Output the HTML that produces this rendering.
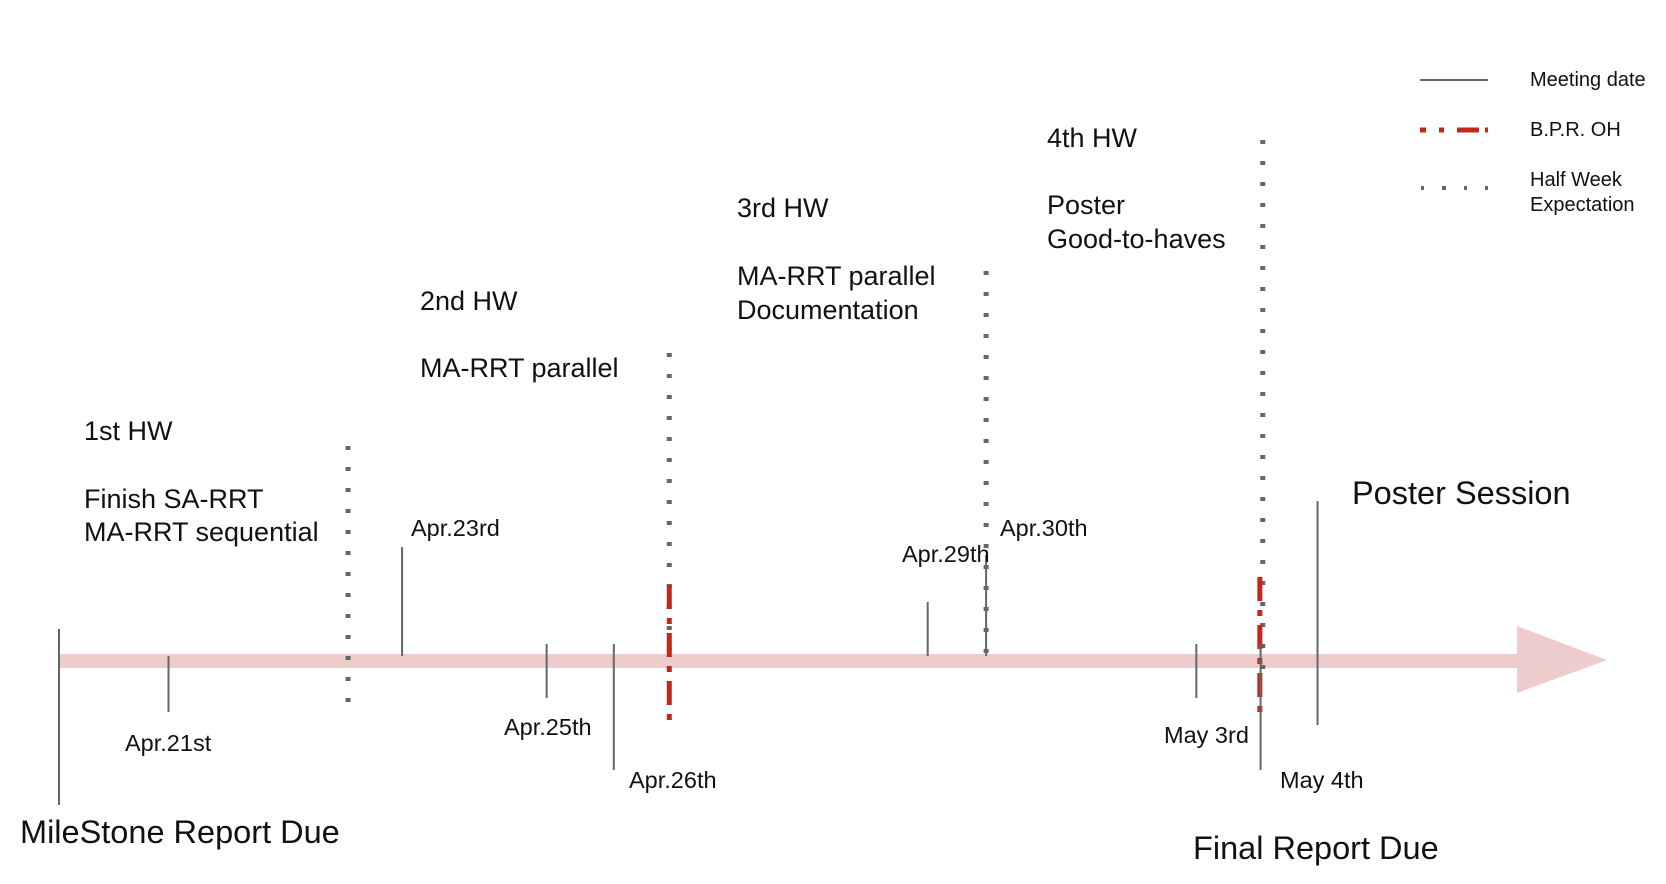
<!DOCTYPE html>
<html><head><meta charset="utf-8"><style>
html,body{margin:0;padding:0;background:#fff;width:1666px;height:884px;overflow:hidden}
svg text{font-family:"Liberation Sans",Arial,sans-serif;fill:#111}
</style></head><body>
<svg id="chart" width="1666" height="884" viewBox="0 0 1666 884" xmlns="http://www.w3.org/2000/svg">
<g id="axis">
<rect x="59" y="654" width="1460" height="14" fill="#edcccb"/>
<polygon points="1517,626 1607,660 1517,693" fill="#edcccb"/>
</g>
<g id="marks"></g>
<g id="labels"></g>
<g id="legend">
<line x1="1420" y1="80" x2="1488" y2="80" stroke="#666" stroke-width="2"/>
<text x="1530" y="86" font-size="20">Meeting date</text>
<line x1="1420" y1="130" x2="1488" y2="130" stroke="#c0281c" stroke-width="5" stroke-dasharray="6 13 5 13 22"/>
<text x="1530" y="136" font-size="20">B.P.R. OH</text>
<line x1="1421" y1="188" x2="1488" y2="188" stroke="#666" stroke-width="4" stroke-dasharray="3 18 4 18"/>
<text x="1530" y="186" font-size="20">Half Week</text>
<text x="1530" y="211" font-size="20">Expectation</text>
</g>
</svg>
<script>
// Timeline positions are in timeline units (0 = milestone, 100 = arrow shaft end)
const meetingNames = ["Apr.20","Apr.21st","Apr.23rd","Apr.25th","Apr.26th","Apr.29th","Apr.30th","May 3rd","May 4th","Poster"];
const meetingPos   = [0, 7.5, 23.5, 33.4, 38.0, 59.5, 63.5, 77.9, 82.3, 86.2];
const meetingTop   = [629, 656, 547, 644, 644, 602, 555, 644, 644, 501];
const meetingBot   = [805, 712, 656, 698, 770, 656, 656, 698, 770, 725];
const halfWeekPos  = [19.8, 41.8, 63.5, 82.45];
const halfWeekTop  = [446, 353, 271, 140];
const halfWeekBot  = [706, 660, 654, 673];
const bprPos       = [41.8, 82.25];
const bprTop       = [585, 577];
const bprBot       = [722, 713];
const x0 = 59, x1 = 1519;
function xScale(v){ return x0 + (x1 - x0) * v / 100; }

const NS = "http://www.w3.org/2000/svg";
const marks = document.getElementById('marks');
function ln(xv, y1, y2, stroke, w, dash){
  const l = document.createElementNS(NS,'line');
  l.setAttribute('x1', xScale(xv)); l.setAttribute('x2', xScale(xv));
  l.setAttribute('y1', y1); l.setAttribute('y2', y2);
  l.setAttribute('stroke', stroke); l.setAttribute('stroke-width', w);
  if (dash) l.setAttribute('stroke-dasharray', dash);
  marks.appendChild(l);
  return l;
}
halfWeekPos.forEach((p,i)=>{
  const l = ln(p, halfWeekTop[i], halfWeekBot[i], '#666', 5, '4 17');
  
  
});
bprPos.forEach((p,i)=>{
  const l = ln(p, bprTop[i], bprBot[i], '#c0281c', 5, '24 9 6 9');
  
  
});
meetingPos.forEach((p,i)=>{
  const l = ln(p, meetingTop[i], meetingBot[i], '#666', 2);
  
  
});

const labelText = ["Apr.21st","Apr.23rd","Apr.25th","Apr.26th","Apr.29th","Apr.30th","May 3rd","May 4th",
 "MileStone Report Due","Final Report Due","Poster Session",
 "1st HW","Finish SA-RRT","MA-RRT sequential","2nd HW","MA-RRT parallel",
 "3rd HW","MA-RRT parallel","Documentation","4th HW","Poster","Good-to-haves"];
const labelX = [125,411,504,629,902,1000,1164,1280, 20,1193,1352, 84,84,84, 420,420, 737,737,737, 1047,1047,1047];
const labelY = [751,536,735,788,562,536,743,788, 843,859,504, 440,508,541, 310,377, 217,285,319, 147,214,248];
const labelSize = [23.5,23.5,23.5,23.5,23.5,23.5,23.5,23.5, 32.5,32.5,32.5, 27,27,27, 27,27, 27,27,27, 27,27,27];
const lg = document.getElementById('labels');
labelText.forEach((t,i)=>{
  const e = document.createElementNS(NS,'text');
  e.setAttribute('x', labelX[i]); e.setAttribute('y', labelY[i]);
  e.setAttribute('font-size', labelSize[i]);
  e.textContent = t;
  
  
  lg.appendChild(e);
});
</script>
</body></html>
